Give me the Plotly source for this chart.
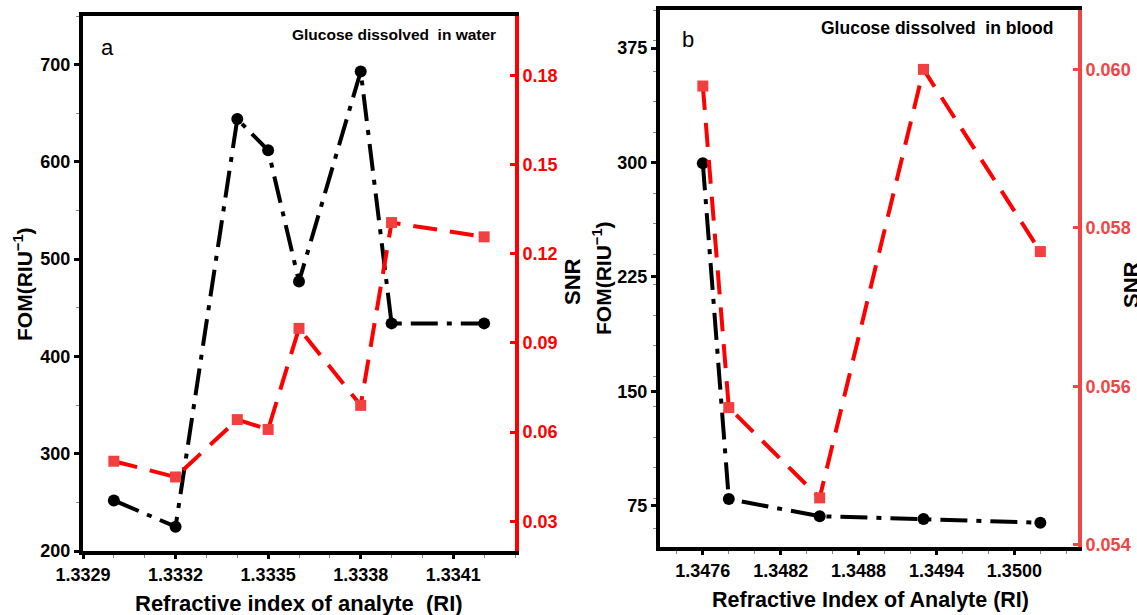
import plotly.graph_objects as go

# ---- data ----
water_ri = [1.3330, 1.3332, 1.3334, 1.3335, 1.3336, 1.3338, 1.3339, 1.3342]
water_fom = [252, 225, 644, 612, 477, 693, 434, 434]
water_snr = [0.0502, 0.0449, 0.0642, 0.0609, 0.0949, 0.0690, 0.1305, 0.1257]

blood_ri = [1.3476, 1.3478, 1.3485, 1.3493, 1.3502]
blood_fom = [299.5, 79.4, 68.2, 66.3, 63.9]
blood_snr = [0.05979, 0.05573, 0.05459, 0.06000, 0.05770]

water_xticks = [1.3329, 1.3332, 1.3335, 1.3338, 1.3341]
water_yticks = [200, 300, 400, 500, 600, 700]
water_y2ticks = [0.03, 0.06, 0.09, 0.12, 0.15, 0.18]
blood_xticks = [1.3476, 1.3482, 1.3488, 1.3494, 1.3500]
blood_yticks = [75, 150, 225, 300, 375]
blood_y2ticks = [0.054, 0.056, 0.058, 0.060]

W, H = 1137, 615
FONT = "Liberation Sans, Arial, sans-serif"
RED = "#ff0000"
RED2 = "#f04545"
MRED = "#f24040"


def px(x):
    return x / W


def py(y):
    return 1 - y / H


fig = go.Figure()

# left panel traces
fig.add_trace(go.Scatter(x=water_ri, y=water_snr, xaxis="x", yaxis="y2", mode="lines+markers",
                         line=dict(color=RED, width=4, dash="24px,13px"),
                         marker=dict(symbol="square", size=11, color=MRED), showlegend=False))
fig.add_trace(go.Scatter(x=water_ri, y=water_fom, xaxis="x", yaxis="y", mode="lines+markers",
                         line=dict(color="black", width=4, dash="27px,9px,5px,9px"),
                         marker=dict(symbol="circle", size=12, color="black"), showlegend=False))
# right panel traces
fig.add_trace(go.Scatter(x=blood_ri, y=blood_snr, xaxis="x2", yaxis="y4", mode="lines+markers",
                         line=dict(color=RED, width=4, dash="24px,13px"),
                         marker=dict(symbol="square", size=11, color=MRED), showlegend=False))
fig.add_trace(go.Scatter(x=blood_ri, y=blood_fom, xaxis="x2", yaxis="y3", mode="lines+markers",
                         line=dict(color="black", width=4, dash="27px,9px,5px,9px"),
                         marker=dict(symbol="circle", size=12, color="black"), showlegend=False))

TS = 18
tickfont = dict(family=FONT, size=TS, color="black", weight="bold")

common_x = dict(showline=True, linecolor="black", linewidth=4, mirror=True, ticks="outside",
                ticklen=4, tickwidth=3, tickcolor="black", showgrid=False, zeroline=False,
                tickfont=tickfont, automargin=False,
                minor=dict(ticks="outside", ticklen=3, tickwidth=1, tickcolor="#888", showgrid=False))
common_y = dict(showline=True, linecolor="black", linewidth=4, ticks="outside",
                ticklen=5, tickwidth=3, tickcolor="black", showgrid=False, zeroline=False,
                tickfont=tickfont, automargin=False,
                minor=dict(ticks="outside", ticklen=3, tickwidth=1, tickcolor="#888", showgrid=False))

yd1 = [py(551), py(16)]
yd2 = [py(547), py(10)]

fig.update_layout(
    width=W, height=H, margin=dict(l=0, r=0, t=0, b=0, autoexpand=False),
    paper_bgcolor="white", plot_bgcolor="white",
    xaxis=dict(common_x, domain=[px(83), px(515)], range=[1.3329, 1.3343],
               tickvals=water_xticks, tickformat=".4f", anchor="y"),
    yaxis=dict(common_y, domain=yd1, range=[200, 750], tickvals=water_yticks, anchor="x"),
    yaxis2=dict(domain=yd1, overlaying="y", side="right", anchor="x", range=[0.02, 0.2],
                tickvals=water_y2ticks, tickformat=".2f", showline=True, linecolor=RED,
                linewidth=4, ticks="inside", ticklen=5, tickwidth=3, tickcolor=RED,
                showgrid=False, zeroline=False, automargin=False,
                tickfont=dict(family=FONT, size=TS, color=RED, weight="bold")),
    xaxis2=dict(common_x, domain=[px(660), px(1078)], range=[1.34727, 1.35049],
                tickvals=blood_xticks, tickformat=".4f", anchor="y3"),
    yaxis3=dict(common_y, domain=yd2, range=[48, 400], tickvals=blood_yticks, anchor="x2"),
    yaxis4=dict(domain=yd2, overlaying="y3", side="right", anchor="x2", range=[0.05397, 0.06075],
                tickvals=blood_y2ticks, tickformat=".3f", showline=True, linecolor=RED2,
                linewidth=4, ticks="inside", ticklen=5, tickwidth=3, tickcolor=RED2,
                showgrid=False, zeroline=False, automargin=False,
                tickfont=dict(family=FONT, size=TS, color=RED2, weight="bold")),
)

bold = dict(family=FONT, size=21, color="black", weight="bold")
ann = [
    dict(text="FOM(RIU<sup>−1</sup>)", x=px(23), y=py(284), textangle=-90, font=bold),
    dict(text="SNR", x=px(572), y=py(282), textangle=-90, font=dict(bold, size=22)),
    dict(text="FOM(RIU<sup>−1</sup>)", x=px(602), y=py(278), textangle=-90, font=bold),
    dict(text="SNR", x=px(1131), y=py(285), textangle=-90, font=dict(bold, size=22)),
    dict(text="Refractive index of analyte  (RI)", x=px(299), y=py(603), font=dict(bold, size=22)),
    dict(text="Refractive Index of Analyte (RI)", x=px(870), y=py(600), font=dict(bold, size=21.5)),
    dict(text="a", x=px(108), y=py(48), font=dict(family=FONT, size=22, color="black")),
    dict(text="b", x=px(688), y=py(39), font=dict(family=FONT, size=22, color="black")),
    dict(text="Glucose dissolved  in water", x=px(394), y=py(34),
         font=dict(family=FONT, size=15.5, color="black", weight="bold")),
    dict(text="Glucose dissolved  in blood", x=px(937), y=py(28),
         font=dict(family=FONT, size=17.5, color="black", weight="bold")),
]
for a in ann:
    a.update(xref="paper", yref="paper", showarrow=False, xanchor="center", yanchor="middle")
fig.update_layout(annotations=ann)

fig.write_html("out.html")
